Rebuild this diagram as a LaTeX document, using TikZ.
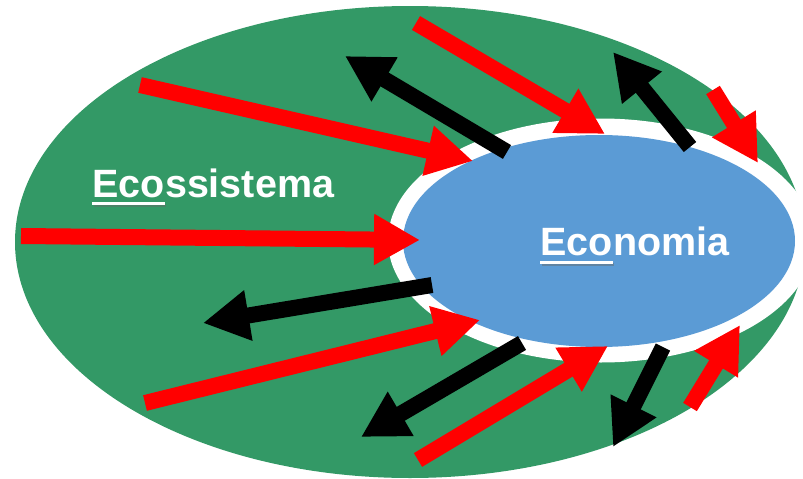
\documentclass[tikz,border=0pt]{standalone}
\usepackage{fontspec}
\setmainfont{Liberation Sans}
\usetikzlibrary{arrows.meta,calc}
\definecolor{ecogreen}{HTML}{339966}
\definecolor{econblue}{HTML}{5B9BD5}
\definecolor{flowred}{HTML}{FF0000}
\begin{document}
\begin{tikzpicture}[x=1pt,y=-1pt,
  flow/.style={line width=16pt,-{Triangle[width=48pt,length=46pt]}},
  inflow/.style={flow,draw=flowred},
  outflow/.style={flow,draw=black},
  lbl/.style={font=\bfseries\fontsize{39.5}{40}\selectfont,text=white,inner sep=0pt,anchor=base west},
  uline/.style={white,line width=3pt},
  shline/.style={black!60,opacity=0.45,line width=3pt}]
\clip (0,0) rectangle (803,479);
\fill[white] (0,0) rectangle (803,479);
% ellipses
\fill[ecogreen] (410,242) ellipse [x radius=395pt, y radius=236pt];
\fill[white] (601,240.5) ellipse [x radius=213pt, y radius=122pt];
\fill[econblue] (599,241) ellipse [x radius=196pt, y radius=106pt];
% coordinates
\coordinate (r1a) at (140,85);  \coordinate (r1b) at (473,161);
\coordinate (r2a) at (416,23);  \coordinate (r2b) at (605,134);
\coordinate (r3a) at (713,90);  \coordinate (r3b) at (758,163);
\coordinate (r4a) at (21,236);  \coordinate (r4b) at (420,240);
\coordinate (r5a) at (145,403); \coordinate (r5b) at (480,320);
\coordinate (r6a) at (418,460); \coordinate (r6b) at (608,346);
\coordinate (r7a) at (690,407); \coordinate (r7b) at (740,325);
\coordinate (b1a) at (507,152); \coordinate (b1b) at (345,56);
\coordinate (b2a) at (690,147); \coordinate (b2b) at (613,52);
\coordinate (b3a) at (432,285); \coordinate (b3b) at (203,323);
\coordinate (b4a) at (522,343); \coordinate (b4b) at (361,437);
\coordinate (b5a) at (663,347); \coordinate (b5b) at (613,447);
% arrows
\draw[inflow] (r1a) -- (r1b);
\draw[inflow] (r2a) -- (r2b);
\draw[inflow] (r3a) -- (r3b);
\draw[inflow] (r4a) -- (r4b);
\draw[inflow] (r5a) -- (r5b);
\draw[inflow] (r6a) -- (r6b);
\draw[inflow] (r7a) -- (r7b);
\draw[outflow] (b1a) -- (b1b);
\draw[outflow] (b2a) -- (b2b);
\draw[outflow] (b3a) -- (b3b);
\draw[outflow] (b4a) -- (b4b);
\draw[outflow] (b5a) -- (b5b);
% underline shadows
\draw[shline] (93.5,205.5) -- (166,205.5);
\draw[shline] (541.5,264) -- (614,264);
% labels
\node[lbl] (ecoA) at (92,197) {Eco};
\node[lbl] (ecoB) at (ecoA.base east) {ssistema};
\draw[uline] ($(ecoA.base west)+(0,6.5)$) -- ($(ecoA.base east)+(0,6.5)$);
\node[lbl] (econA) at (540,255) {Eco};
\node[lbl] (econB) at (econA.base east) {nomia};
\draw[uline] ($(econA.base west)+(0,7)$) -- ($(econA.base east)+(0,7)$);
\end{tikzpicture}
\end{document}
